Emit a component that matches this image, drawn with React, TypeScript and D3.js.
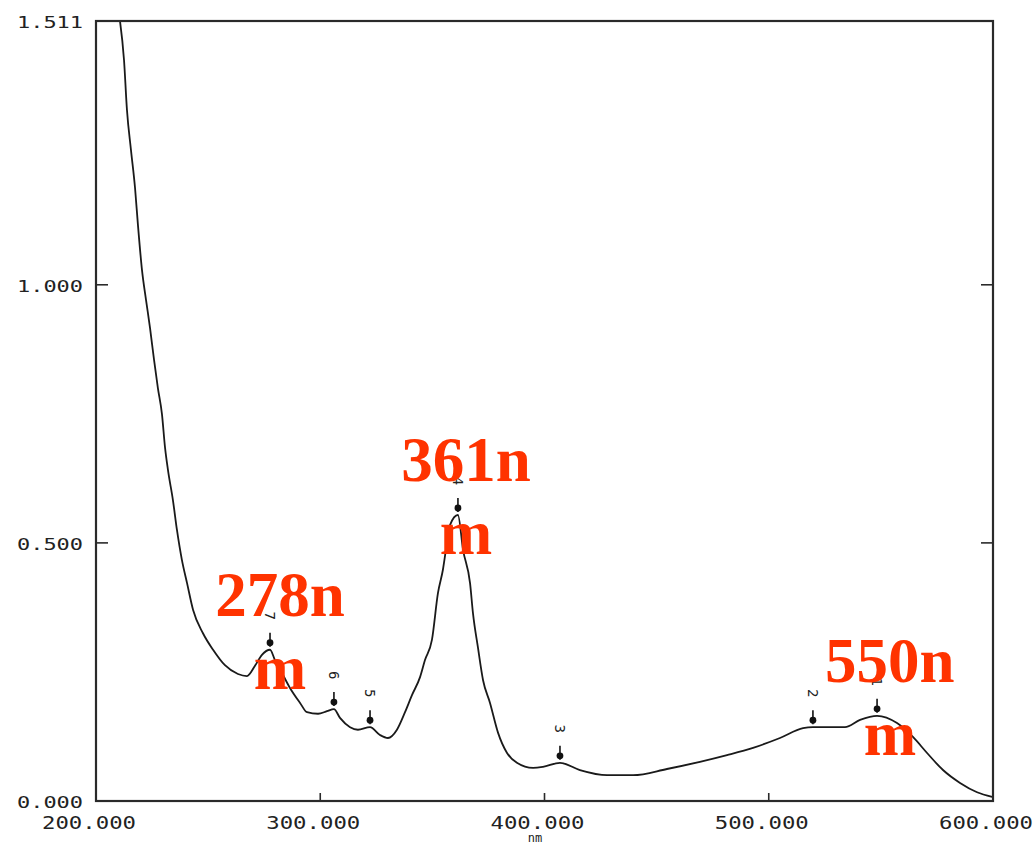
import React from "react";
import * as d3 from "d3";

const wavelengths = [210.7, 212.5, 213.8, 215.6, 217.4, 218.7, 220.5, 222.3, 224.1, 225.9, 227.6, 229.4, 230.8, 232.1, 234.3, 236.1, 238.3, 240.6, 243.3, 247.7, 252.2, 257.5, 263.3, 267.3, 270.9, 274.0, 277.6, 279.8, 283.4, 286.5, 291.0, 294.1, 299.0, 303.0, 306.1, 308.8, 313.3, 316.8, 322.2, 326.6, 330.2, 334.2, 337.8, 340.9, 344.5, 346.7, 349.8, 352.5, 354.7, 356.5, 357.9, 361.4, 363.7, 366.8, 368.1, 370.3, 372.6, 375.7, 379.3, 383.3, 387.7, 394.9, 399.3, 406.9, 415.8, 427.9, 439.5, 454.6, 469.3, 481.4, 493.0, 505.0, 515.3, 519.7, 534.0, 540.7, 548.3, 557.2, 564.3, 570.6, 577.7, 585.3, 592.9, 599.6];
const absorbance = [1.511, 1.435, 1.339, 1.261, 1.188, 1.116, 1.029, 0.971, 0.916, 0.854, 0.800, 0.750, 0.684, 0.641, 0.583, 0.525, 0.467, 0.422, 0.370, 0.325, 0.293, 0.263, 0.246, 0.242, 0.262, 0.283, 0.293, 0.273, 0.244, 0.219, 0.190, 0.172, 0.169, 0.174, 0.178, 0.161, 0.143, 0.138, 0.143, 0.128, 0.122, 0.138, 0.172, 0.205, 0.240, 0.273, 0.312, 0.403, 0.448, 0.500, 0.535, 0.554, 0.486, 0.422, 0.364, 0.298, 0.234, 0.190, 0.132, 0.093, 0.074, 0.064, 0.066, 0.074, 0.060, 0.050, 0.050, 0.062, 0.076, 0.089, 0.103, 0.122, 0.141, 0.143, 0.143, 0.157, 0.165, 0.151, 0.124, 0.093, 0.060, 0.035, 0.017, 0.008];

const peakNumbers = ["1", "2", "3", "4", "5", "6", "7"];
const peakWavelengths = [548.3, 519.7, 406.9, 361.4, 322.2, 306.1, 277.6];
const peakValues = [0.165, 0.143, 0.074, 0.554, 0.143, 0.178, 0.293];

const annotationTexts = ["278n", "361n", "550n"];
const annotationWavelengths = [278, 361, 550];
const annotationValues = [0.293, 0.554, 0.165];

const xTicks = [200, 300, 400, 500, 600];
const yTicks = [0, 0.5, 1.0, 1.511];

const W = 1033;
const H = 845;
const left = 96, right = 993, top = 21, bottom = 801;

export default function App() {
  const x = d3.scaleLinear().domain([200, 600]).range([left, right]);
  const y = d3.scaleLinear().domain([0, 1.511]).range([bottom, top]);
  const pts: [number, number][] = wavelengths.map((w, i) => [w, absorbance[i]]);
  const line = d3
    .line<[number, number]>()
    .x((d) => x(d[0]))
    .y((d) => y(d[1]))
    .curve(d3.curveMonotoneX);
  const mono = "'DejaVu Sans Mono', monospace";
  return (
    <svg
      width={W}
      height={H}
      style={{ position: "absolute", left: 0, top: 0, background: "#fff" }}
    >
      <defs>
        <clipPath id="plotclip">
          <rect x={left} y={top} width={right - left} height={bottom - top} />
        </clipPath>
      </defs>
      <rect x={0} y={0} width={W} height={H} fill="#fff" />
      <path
        d={line(pts) || ""}
        fill="none"
        stroke="#1a1a1a"
        strokeWidth={1.8}
        clipPath="url(#plotclip)"
      />
      <rect
        x={left}
        y={top}
        width={right - left}
        height={bottom - top}
        fill="none"
        stroke="#2a2a2a"
        strokeWidth={2.2}
      />
      {yTicks.map((t, i) => (
        <g key={"y" + i}>
          <line x1={left} x2={left + 12} y1={y(t)} y2={y(t)} stroke="#2a2a2a" strokeWidth={1.6} />
          <line x1={right - 12} x2={right} y1={y(t)} y2={y(t)} stroke="#2a2a2a" strokeWidth={1.6} />
          <text
            x={83}
            y={y(t) + 7}
            textAnchor="end"
            fontFamily={mono}
            fontSize={15}
            fill="#222"
            textLength={66}
            lengthAdjust="spacingAndGlyphs"
          >
            {t.toFixed(3)}
          </text>
        </g>
      ))}
      {xTicks.map((t, i) => (
        <g key={"x" + i}>
          <line x1={x(t)} x2={x(t)} y1={bottom} y2={bottom - 8} stroke="#2a2a2a" strokeWidth={1.6} />
          <text
            x={x(t) - 54}
            y={829}
            fontFamily={mono}
            fontSize={17}
            fill="#222"
            textLength={94}
            lengthAdjust="spacingAndGlyphs"
          >
            {t.toFixed(3)}
          </text>
        </g>
      ))}
      <text x={535} y={842} textAnchor="middle" fontFamily={mono} fontSize={12} fill="#222">
        nm
      </text>
      {peakNumbers.map((n, i) => {
        const px = x(peakWavelengths[i]);
        const py = y(peakValues[i]);
        return (
          <g key={"p" + i}>
            <line x1={px} x2={px} y1={py - 17} y2={py - 3} stroke="#111" strokeWidth={1.6} />
            <circle cx={px} cy={py - 7} r={3.4} fill="#111" />
            <text
              x={px}
              y={py - 34}
              transform={`rotate(90 ${px} ${py - 34})`}
              textAnchor="middle"
              dominantBaseline="central"
              fontFamily={mono}
              fontSize={14}
              fill="#222"
            >
              {n}
            </text>
          </g>
        );
      })}
      {annotationTexts.map((t, i) => {
        const ax = x(annotationWavelengths[i]) + 9;
        const ay = y(annotationValues[i]) - 34;
        return (
          <g key={"a" + i}>
            <text
              x={ax}
              y={ay}
              textAnchor="middle"
              fontFamily="'Liberation Serif', 'Times New Roman', serif"
              fontWeight="bold"
              fontSize={63}
              fill="#ff3300"
            >
              {t}
            </text>
            <text
              x={ax}
              y={ay + 73}
              textAnchor="middle"
              fontFamily="'Liberation Serif', 'Times New Roman', serif"
              fontWeight="bold"
              fontSize={63}
              fill="#ff3300"
            >
              m
            </text>
          </g>
        );
      })}
    </svg>
  );
}
